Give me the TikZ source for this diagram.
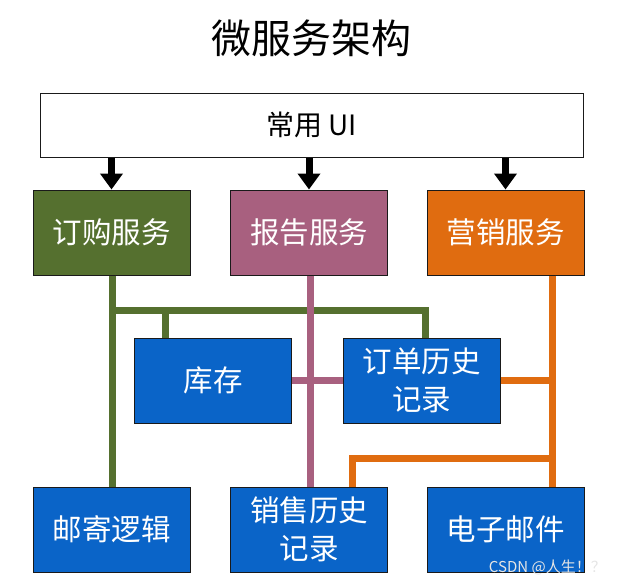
\documentclass[tikz,border=0pt]{standalone}
\usepackage{fontspec}
\setmainfont{Noto Sans CJK SC}
\usetikzlibrary{arrows.meta}
\definecolor{cgreen}{HTML}{55702F}
\definecolor{cpink}{HTML}{A8607F}
\definecolor{corange}{HTML}{E06C10}
\definecolor{cblue}{HTML}{0A64C8}
\definecolor{cborder}{HTML}{1A1A1A}
\tikzset{
  box/.style={draw=cborder, line width=1pt, minimum width=157pt, minimum height=85pt,
    text=white, font=\fontsize{29.5}{38}\selectfont, align=center, inner sep=0pt},
  svc/.style={box},
  blue/.style={box, fill=cblue},
  conn/.style={line width=7pt},
  arr/.style={line width=7pt, -{Triangle[width=22pt,length=16pt]}},
}
\begin{document}
\begin{tikzpicture}[x=1pt,y=-1pt]
\useasboundingbox (0,0) rectangle (620,586);
\node[font=\fontsize{40}{44}\selectfont] (title) at (311,38) {微服务架构};
\node[draw=cborder, line width=1pt, minimum width=543pt, minimum height=64pt,
  font=\fontsize{28}{32}\selectfont] (ui) at (311.5,125) {常用 UI};
\node[svc, fill=cgreen] (order) at (111.5,232.5) {订购服务};
\node[svc, fill=cpink] (report) at (309,232.5) {报告服务};
\node[svc, fill=corange] (mkt) at (505.5,232.5) {营销服务};
\node[blue] (stock) at (213,380.5) {库存};
\node[blue] (ordhist) at (421.5,380.5) {订单历史\\记录};
\node[blue] (mail) at (111.5,529.5) {邮寄逻辑};
\node[blue] (sales) at (309,529.5) {销售历史\\记录};
\node[blue] (email) at (505.5,529.5) {电子邮件};
% arrows
\draw[arr] (ui.south -| order) -- (order.north);
\draw[arr] (ui.south -| report) -- (report.north);
\draw[arr] (ui.south -| mkt) -- (mkt.north);
% green
\coordinate (gx) at (112,310);
\coordinate (gs) at (165,310);
\coordinate (gh) at (425,310);
\draw[conn, cgreen] (order.south -| gx) -- (mail.north -| gx);
\draw[conn, cgreen, line join=miter] (gx) -- (gh) -- (ordhist.north -| gh);
\draw[conn, cgreen] (gs) -- (stock.north -| gs);
% pink
\coordinate (px) at (310,0);
\draw[conn, cpink] (report.south -| px) -- (sales.north -| px);
\draw[conn, cpink] (stock.east) -- (ordhist.west);
% orange
\coordinate (ox) at (552,458);
\coordinate (os) at (352,458);
\draw[conn, corange] (mkt.south -| ox) -- (email.north -| ox);
\draw[conn, corange] (ordhist.east) -- (ordhist.east -| ox);
\draw[conn, corange, line join=miter] (ox) -- (os) -- (sales.north -| os);
% watermark
\node[anchor=east, text=white!80!gray, font=\fontsize{15}{17}\selectfont, inner sep=0pt] (wm) at (606,567) {CSDN @人生！？};
\end{tikzpicture}
\end{document}
